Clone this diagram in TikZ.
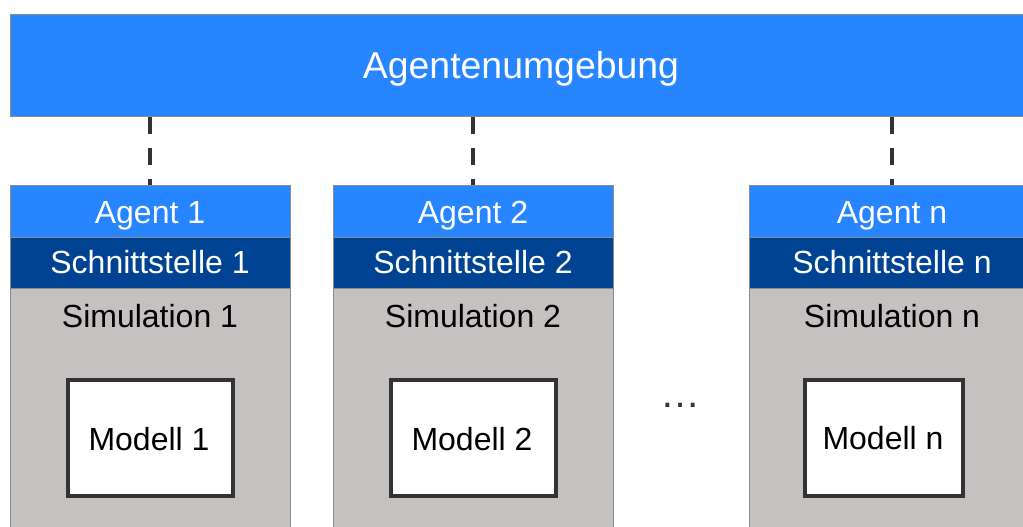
\documentclass[tikz,border=0pt]{standalone}
\usepackage{fontspec}
\setmainfont{Liberation Sans}
\definecolor{agentblue}{RGB}{38,133,255}
\definecolor{ifaceblue}{RGB}{0,67,147}
\definecolor{simgrey}{RGB}{197,193,192}
\definecolor{edgegrey}{RGB}{140,140,140}
\definecolor{darkline}{RGB}{51,51,51}
\begin{document}
\begin{tikzpicture}[x=1pt,y=-1pt,
  box/.style={draw=edgegrey, line width=0.8pt, inner sep=0pt, anchor=north west},
  envbox/.style={box, fill=agentblue, minimum width=1025pt, minimum height=102pt},
  agentbox/.style={box, fill=agentblue, minimum width=#1, minimum height=52pt},
  ifacebox/.style={box, fill=ifaceblue, minimum width=#1, minimum height=51pt},
  simbox/.style={box, fill=simgrey, minimum width=#1, minimum height=260pt},
  modelbox/.style={draw=darkline, line width=4pt, fill=white, inner sep=0pt,
    minimum height=116pt},
  lbl/.style={anchor=base, inner sep=0pt, font=\fontsize{32}{32}\selectfont},
  title/.style={anchor=base, inner sep=0pt, font=\fontsize{37.4}{37.4}\selectfont},
  link/.style={draw=darkline, line width=4pt, dash pattern=on 17pt off 14pt}
]
\useasboundingbox (0,0) rectangle (1023,527);
\clip (0,0) rectangle (1023,527);

% agent environment
\node[envbox] (env) at (10,14) {};
\node[title, text=white] (envtxt) at (521,78.3) {Agentenumgebung};

% column 1
\node[simbox=280pt] (s1) at (10,288) {};
\node[agentbox=280pt] (a1) at (10,185) {};
\node[ifacebox=280pt] (i1) at (10,237) {};
\node[lbl, text=white] (a1t) at (150,223) {Agent 1};
\node[lbl, text=white] (i1t) at (150,273) {Schnittstelle 1};
\node[lbl] (s1t) at (150,327) {Simulation 1};
\node[modelbox, minimum width=165pt] (m1) at (150.5,438) {};
\node[lbl] (m1t) at (149,450) {Modell 1};

% column 2
\node[simbox=280pt] (s2) at (333,288) {};
\node[agentbox=280pt] (a2) at (333,185) {};
\node[ifacebox=280pt] (i2) at (333,237) {};
\node[lbl, text=white] (a2t) at (473,223) {Agent 2};
\node[lbl, text=white] (i2t) at (473,273) {Schnittstelle 2};
\node[lbl] (s2t) at (473,327) {Simulation 2};
\node[modelbox, minimum width=165pt] (m2) at (473.5,438) {};
\node[lbl] (m2t) at (472,450) {Modell 2};

% column n
\node[simbox=286pt] (sn) at (749,288) {};
\node[agentbox=286pt] (an) at (749,185) {};
\node[ifacebox=286pt] (in) at (749,237) {};
\node[lbl, text=white] (ant) at (892,223) {Agent n};
\node[lbl, text=white] (int) at (892,273) {Schnittstelle n};
\node[lbl] (snt) at (892,327) {Simulation n};
\node[modelbox, minimum width=158pt] (mn) at (884,437.5) {};
\node[lbl] (mnt) at (883,449.5) {Modell n};

% ellipsis between the columns
\node[anchor=base, inner sep=0pt, font=\fontsize{40}{40}\selectfont, text=darkline] (dots) at (680,407) {…};

% dashed links from the environment to each agent
\draw[link] (env.south -| a1.north) -- (a1.north);
\draw[link] (env.south -| a2.north) -- (a2.north);
\draw[link] (env.south -| an.north) -- (an.north);
\end{tikzpicture}
\end{document}
